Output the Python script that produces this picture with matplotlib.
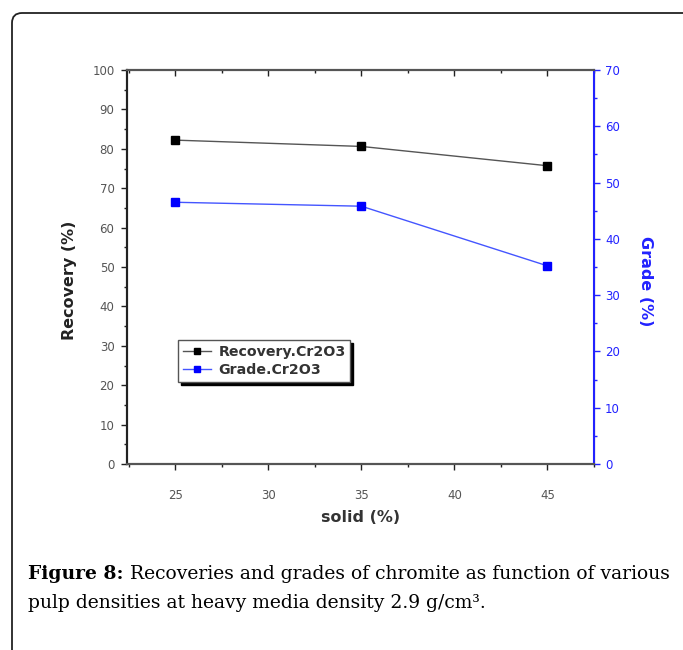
import matplotlib.pyplot as plt
from matplotlib.patches import FancyBboxPatch
from matplotlib.transforms import IdentityTransform
from matplotlib.ticker import MultipleLocator

solid = [25, 35, 45]
recovery = [82.2, 80.6, 75.7]
grade = [46.5, 45.8, 35.2]

plt.rcParams['font.family'] = ['DejaVu Sans']
fig = plt.figure(figsize=(6.83, 6.5), dpi=100)

# page frame
frame = FancyBboxPatch((12, -40), 720, 677, boxstyle="round,pad=0,rounding_size=10",
                       transform=IdentityTransform(), fill=False, lw=1.3, ec='#222222')
fig.add_artist(frame)

ax = fig.add_axes([127 / 683, 1 - 464 / 650, (594 - 127) / 683, (464 - 70) / 650])
ax2 = ax.twinx()

ax.plot(solid, recovery, '-s', color='#555555', mfc='black', mec='black',
        ms=5.5, lw=1, label='Recovery.Cr2O3')
ax2.plot(solid, grade, '-s', color='#4455ff', mfc='#0000ff', mec='#0000ff',
         ms=5.5, lw=1, label='Grade.Cr2O3')

ax.set_xlim(22.4, 47.5)
ax.set_ylim(0, 100)
ax2.set_ylim(0, 70)
ax.xaxis.set_major_locator(MultipleLocator(5))
ax.xaxis.set_minor_locator(MultipleLocator(2.5))
ax.yaxis.set_major_locator(MultipleLocator(10))
ax.yaxis.set_minor_locator(MultipleLocator(5))
ax2.yaxis.set_major_locator(MultipleLocator(10))
ax2.yaxis.set_minor_locator(MultipleLocator(5))

ax.tick_params(axis='both', which='major', labelsize=8.5, length=4, width=1,
               colors='#222222', labelcolor='#555555')
ax.tick_params(axis='both', which='minor', length=2.5, width=1, colors='#222222')
ax.tick_params(axis='x', which='both', top=True, bottom=True)
ax.tick_params(axis='x', which='major', pad=14)
ax.tick_params(axis='y', which='major', pad=5)
ax2.tick_params(axis='y', which='major', labelsize=8.5, colors='#2222ff',
                length=4, width=1, pad=4)
ax2.tick_params(axis='y', which='minor', colors='#2222ff', length=2.5, width=1)
for t in ax.xaxis.get_major_ticks() + ax.xaxis.get_minor_ticks():
    t.tick2line.set_marker(3)  # top ticks point inward

for s in ['left', 'top', 'bottom']:
    ax.spines[s].set_linewidth(1.5)
    ax2.spines[s].set_linewidth(1.5)
    ax2.spines[s].set_color('#555555')
ax2.spines['left'].set_color('#222222')
ax2.spines['right'].set_color('#2222ff')
ax2.spines['right'].set_linewidth(1.5)

ax.set_xlabel('solid (%)', fontsize=11.5, fontweight='bold', color='#333333', labelpad=6)
ax.set_ylabel('Recovery (%)', fontsize=11.5, fontweight='bold', color='#222222')
ax2.set_ylabel('Grade (%)', fontsize=11.5, fontweight='bold', color='#2222ff',
               rotation=270)
ax.yaxis.set_label_coords(-0.108, 0.465)
ax2.yaxis.set_label_coords(1.127, 0.465)

h1, l1 = ax.get_legend_handles_labels()
h2, l2 = ax2.get_legend_handles_labels()
leg = ax2.legend(h1 + h2, l1 + l2, loc='upper left', bbox_to_anchor=(0.109, 0.315),
                 fontsize=10.2, frameon=True, fancybox=False,
                 shadow={'color': 'black', 'alpha': 1},
                 edgecolor='#555555', handlelength=2.0, borderpad=0.35,
                 labelspacing=0.3, borderaxespad=0, handletextpad=0.5, markerscale=0.8)
leg.get_frame().set_linewidth(1.0)
for t in leg.get_texts():
    t.set_color('#333333')
    t.set_fontweight('bold')

# caption
cap1 = fig.text(28 / 683, 1 - 579 / 650, 'Figure 8:', fontsize=13.5, fontweight='bold',
                family='DejaVu Serif', va='baseline')
ax.annotate(' Recoveries and grades of chromite as function of various',
            xy=(1, 0), xycoords=cap1, va='bottom', fontsize=13.5,
            family='DejaVu Serif', annotation_clip=False)
fig.text(28 / 683, 1 - 608 / 650, 'pulp densities at heavy media density 2.9 g/cm\u00b3.',
         fontsize=13.5, family='DejaVu Serif', va='baseline')

fig.savefig('out.png', dpi=100)
